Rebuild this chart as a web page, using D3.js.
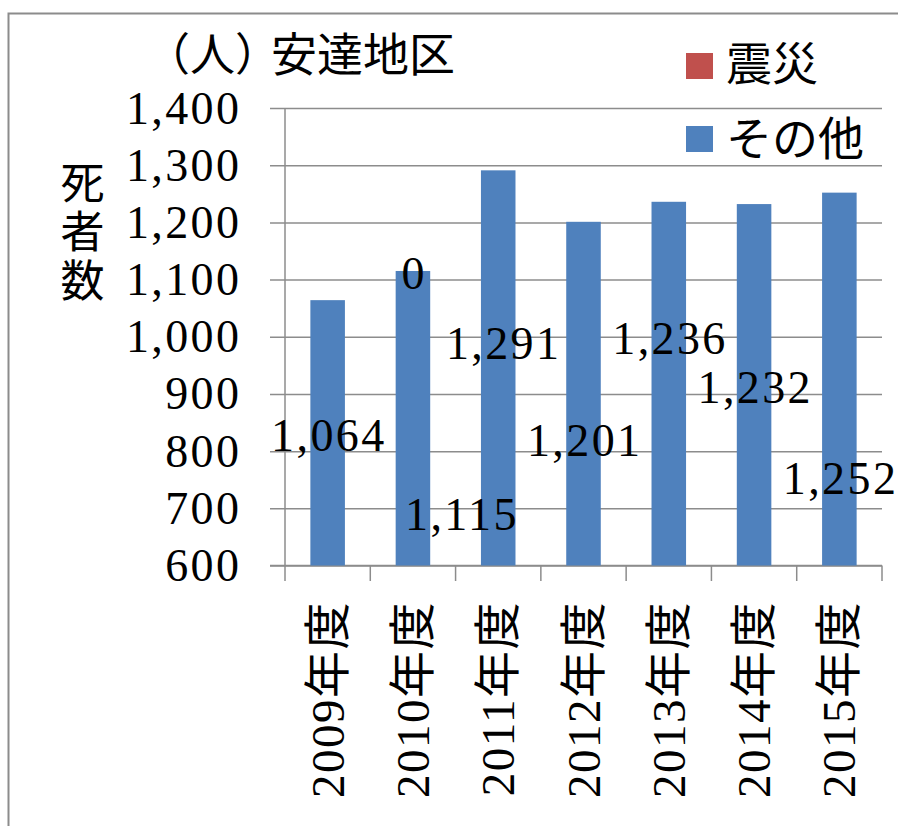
<!DOCTYPE html>
<html><head><meta charset="utf-8">
<script src="https://cdn.jsdelivr.net/npm/d3@7/dist/d3.min.js"></script>
<style>
html,body{margin:0;padding:0;background:#fff;}
svg{display:block;}
</style>
</head><body>
<script>
// ---- data ----
const categories = ["2009年度","2010年度","2011年度","2012年度","2013年度","2014年度","2015年度"];
const otherValues = [1064, 1115, 1291, 1201, 1236, 1232, 1252];   // その他
const quakeValues = [null, 0, null, null, null, null, null];       // 震災
const yTicks = [600, 700, 800, 900, 1000, 1100, 1200, 1300, 1400];
const seriesNames = ["震災", "その他"];
// hand-placed data label anchors (value units, category shift)
const otherLabelAt = [827, 690, 988, 818, 997, 911, 752];
const otherLabelShift = [0, 0.56, 0.05, 0, 0, 0, 0];

const W = 898, H = 826;
const svg = d3.select("body").append("svg").attr("width", W).attr("height", H);
const serif = "'Liberation Serif','Noto Sans CJK JP',serif";
const cjk = "'Noto Sans CJK JP','Noto Sans CJK SC',sans-serif";
const LS = 2.4;

// chart frame
svg.append("rect").attr("x", 8.5).attr("y", 13.5).attr("width", 1000).attr("height", 1000)
  .attr("fill", "none").attr("stroke", "#8c8c8c").attr("stroke-width", 2);

const y = d3.scaleLinear().domain([600, 1400]).range([565.5, 108]);
const x = d3.scaleBand().domain(categories).range([285, 882]).padding(0);
const bw = x.bandwidth() * 0.405;

// gridlines + y ticks
const yAxis = d3.axisLeft(y).tickValues(yTicks).tickSize(-(882 - 270)).tickFormat("");
const gy = svg.append("g").attr("transform", "translate(270,0)").call(yAxis);
gy.select(".domain").remove();
gy.selectAll(".tick line").attr("stroke", "#8c8c8c").attr("stroke-width", 1.5);

// y tick labels
svg.append("g").selectAll("text").data(yTicks).join("text")
  .attr("x", 239 + LS).attr("y", d => y(d) + 15.5)
  .attr("text-anchor", "end").attr("font-family", serif).attr("font-size", 46)
  .attr("letter-spacing", LS).attr("fill", "#000")
  .text(d => d3.format(",")(d));

// y axis line
svg.append("line").attr("x1", 285).attr("x2", 285).attr("y1", y(1400)).attr("y2", y(600))
  .attr("stroke", "#8c8c8c").attr("stroke-width", 1.5);

// x axis
const xAxis = d3.axisBottom(x).tickSize(0).tickFormat("");
const gx = svg.append("g").attr("transform", `translate(0,${y(600)})`).call(xAxis);
gx.select(".domain").remove();
svg.append("line").attr("x1", 270).attr("x2", 882).attr("y1", y(600)).attr("y2", y(600))
  .attr("stroke", "#8c8c8c").attr("stroke-width", 1.5);
const bounds = categories.map(c => x(c)).concat([x(categories[categories.length - 1]) + x.bandwidth()]);
svg.append("g").selectAll("line").data(bounds).join("line")
  .attr("x1", d => d).attr("x2", d => d).attr("y1", y(600)).attr("y2", y(600) + 15.5)
  .attr("stroke", "#8c8c8c").attr("stroke-width", 1.5);

// bars: その他
svg.append("g").selectAll("rect").data(otherValues).join("rect")
  .attr("x", (d, i) => x(categories[i]) + x.bandwidth() / 2 - bw / 2)
  .attr("width", bw)
  .attr("y", d => y(d)).attr("height", d => y(600) - y(d))
  .attr("fill", "#4F81BD");

// bars: 震災 (stacked)
svg.append("g").selectAll("rect").data(quakeValues).join("rect")
  .attr("x", (d, i) => x(categories[i]) + x.bandwidth() / 2 - bw / 2)
  .attr("width", bw)
  .attr("y", (d, i) => y(otherValues[i] + (d || 0)))
  .attr("height", (d, i) => y(otherValues[i]) - y(otherValues[i] + (d || 0)))
  .attr("fill", "#C0504D");

// data labels
svg.append("g").selectAll("text").data(otherValues).join("text")
  .attr("x", (d, i) => x(categories[i]) + x.bandwidth() * (0.5 + otherLabelShift[i]) + LS / 2)
  .attr("y", (d, i) => y(otherLabelAt[i]) + 15.5)
  .attr("text-anchor", "middle").attr("font-family", serif).attr("font-size", 46)
  .attr("letter-spacing", LS).attr("fill", "#000")
  .text(d => d3.format(",")(d));
svg.append("g").selectAll("text").data(quakeValues.map((d, i) => ({d, i})).filter(o => o.d !== null)).join("text")
  .attr("x", o => x(categories[o.i]) + x.bandwidth() / 2)
  .attr("y", o => y(otherValues[o.i] + o.d / 2) + 18)
  .attr("text-anchor", "middle").attr("font-family", serif).attr("font-size", 46)
  .attr("fill", "#000")
  .text(o => d3.format(",")(o.d));

// category labels (rotated)
svg.append("g").selectAll("text").data(categories).join("text")
  .attr("transform", d => `translate(${x(d) + x.bandwidth() / 2 + 16},601) rotate(-90)`)
  .attr("text-anchor", "end").attr("font-family", serif).attr("font-size", 47)
  .attr("letter-spacing", 1.5).attr("fill", "#000")
  .text(d => d);

// title (single text element)
const title = svg.append("text").attr("x", 145).attr("y", 70.5).attr("font-family", cjk)
  .attr("font-size", 45).attr("fill", "#000");
title.append("tspan").text("（人）");
title.append("tspan").attr("x", 271).attr("font-size", 46).text("安達地区");

// y axis title (vertical, single text element)
svg.append("text")
  .attr("x", 82.5).attr("y", 160)
  .attr("writing-mode", "vertical-rl")
  .attr("font-family", cjk).attr("font-size", 44)
  .attr("letter-spacing", 5)
  .attr("fill", "#000").text("死者数");

// legend
const legendColors = ["#C0504D", "#4F81BD"];
const lg = svg.append("g").selectAll("g").data(seriesNames).join("g")
  .attr("transform", (d, i) => `translate(686,${53 + i * 73})`);
lg.append("rect").attr("width", 27).attr("height", 26).attr("fill", (d, i) => legendColors[i]);
lg.append("text").attr("x", 40).attr("y", (d, i) => 27 + i * 2).attr("font-family", cjk).attr("font-size", 46)
  .attr("fill", "#000").text(d => d);
</script>
</body></html>
